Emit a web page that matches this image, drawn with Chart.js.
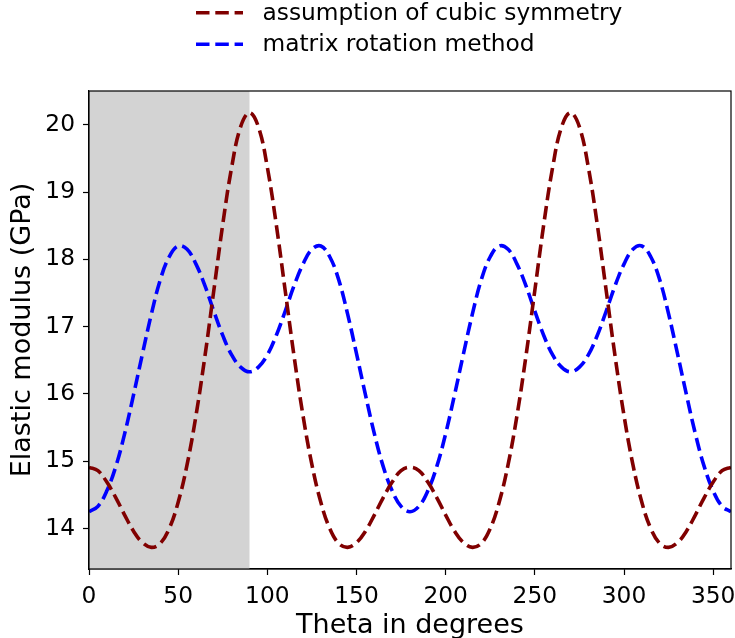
<!DOCTYPE html>
<html>
<head>
<meta charset="utf-8">
<script src="https://cdn.jsdelivr.net/npm/chart.js@4/dist/chart.umd.min.js"></script>
<style>
  html, body { margin: 0; padding: 0; background: #ffffff; }
  #wrap { width: 735px; height: 638px; position: relative; }
</style>
</head>
<body>
<div id="wrap"><canvas id="c" width="735" height="638"></canvas></div>
<script>
// ---- data ----
const thetaDeg = [0,5,10,15,20,25,30,35,40,45,50,55,60,65,70,75,80,85,90,95,100,105,110,115,120,125,130,135,140,145,150,155,160,165,170,175,180,185,190,195,200,205,210,215,220,225,230,235,240,245,250,255,260,265,270,275,280,285,290,295,300,305,310,315,320,325,330,335,340,345,350,355,360];
const cubicSymmetry = [14.91,14.86,14.69,14.46,14.20,13.96,13.79,13.72,13.78,14.00,14.39,14.95,15.68,16.56,17.54,18.52,19.37,19.97,20.18,19.97,19.37,18.52,17.54,16.56,15.68,14.95,14.39,14.00,13.78,13.72,13.79,13.96,14.20,14.46,14.69,14.86,14.91,
  14.86,14.69,14.46,14.20,13.96,13.79,13.72,13.78,14.00,14.39,14.95,15.68,16.56,17.54,18.52,19.37,19.97,20.18,19.97,19.37,18.52,17.54,16.56,15.68,14.95,14.39,14.00,13.78,13.72,13.79,13.96,14.20,14.46,14.69,14.86,14.91];
const matrixRotation = [14.25,14.33,14.56,14.92,15.41,15.99,16.60,17.19,17.70,18.04,18.20,18.15,17.93,17.61,17.23,16.87,16.58,16.40,16.33,16.40,16.58,16.87,17.23,17.61,17.93,18.15,18.20,18.04,17.70,17.19,16.60,15.99,15.41,14.92,14.56,14.33,14.25,
  14.33,14.56,14.92,15.41,15.99,16.60,17.19,17.70,18.04,18.20,18.15,17.93,17.61,17.23,16.87,16.58,16.40,16.33,16.40,16.58,16.87,17.23,17.61,17.93,18.15,18.20,18.04,17.70,17.19,16.60,15.99,15.41,14.92,14.56,14.33,14.25];
const seriesLabels = ['assumption of cubic symmetry', 'matrix rotation method'];
const xTickValues = [0,50,100,150,200,250,300,350];
const yTickValues = [14,15,16,17,18,19,20];
const shadedRange = [0, 90];
const xLimits = [0, 360];
const yLimits = [13.3985, 20.5035];

// ---- styling ----
const FONT = 'DejaVu Sans';
const colors = ['#800000', '#0000ff'];
const dash = [13.5, 5.8];
const lw = 3.6;
const tickFont = 23.3;
const titleFont = 27;

function toPoints(xs, ys) { return xs.map((x, i) => ({ x: x, y: ys[i] })); }

const shadePlugin = {
  id: 'shade',
  beforeDatasetsDraw(chart) {
    const { ctx, chartArea, scales } = chart;
    const x0 = scales.x.getPixelForValue(shadedRange[0]);
    const x1 = scales.x.getPixelForValue(shadedRange[1]);
    ctx.save();
    ctx.fillStyle = '#d3d3d3';
    ctx.fillRect(x0, chartArea.top, x1 - x0, chartArea.bottom - chartArea.top);
    ctx.restore();
  }
};

const framePlugin = {
  id: 'frame',
  afterDatasetsDraw(chart) {
    const { ctx, chartArea } = chart;
    ctx.save();
    ctx.strokeStyle = '#000';
    ctx.lineWidth = 1.2;
    ctx.strokeRect(chartArea.left, chartArea.top, chartArea.right - chartArea.left, chartArea.bottom - chartArea.top);
    ctx.restore();
  }
};

const legendPlugin = {
  id: 'customLegend',
  afterDraw(chart) {
    const ctx = chart.ctx;
    ctx.save();
    const rowsY = [12.7, 44.3];
    for (let i = 0; i < seriesLabels.length; i++) {
      const y = rowsY[i];
      ctx.strokeStyle = colors[i];
      ctx.lineWidth = lw;
      ctx.setLineDash(dash);
      ctx.beginPath();
      ctx.moveTo(196, y);
      ctx.lineTo(243, y);
      ctx.stroke();
      ctx.setLineDash([]);
      ctx.fillStyle = '#000';
      ctx.font = tickFont + 'px "' + FONT + '"';
      ctx.textBaseline = 'alphabetic';
      ctx.textAlign = 'left';
      ctx.fillText(seriesLabels[i], 262.5, y + 6.8);
    }
    ctx.restore();
  }
};

new Chart(document.getElementById('c'), {
  type: 'line',
  data: {
    datasets: [
      { label: seriesLabels[0], data: toPoints(thetaDeg, cubicSymmetry), borderColor: colors[0], borderWidth: lw, borderDash: dash, pointRadius: 0, tension: 0.4, fill: false },
      { label: seriesLabels[1], data: toPoints(thetaDeg, matrixRotation), borderColor: colors[1], borderWidth: lw, borderDash: dash, pointRadius: 0, tension: 0.4, fill: false }
    ]
  },
  options: {
    responsive: false,
    animation: false,
    layout: { padding: { top: 91, right: 4, left: 0, bottom: 0 } },
    plugins: { legend: { display: false }, tooltip: { enabled: false } },
    scales: {
      x: {
        type: 'linear', min: xLimits[0], max: xLimits[1],
        afterBuildTicks: s => { s.ticks = xTickValues.map(v => ({ value: v })); },
        afterFit: s => { s.height = 69; s.paddingLeft = 0; s.paddingRight = 0; },
        ticks: { color: '#000', font: { family: FONT, size: tickFont }, padding: 8, maxRotation: 0, autoSkip: false },
        grid: { drawOnChartArea: false, drawTicks: true, tickLength: 6, color: '#000', tickWidth: 1.2 },
        border: { color: '#000', width: 1.2 },
        title: { display: true, text: 'Theta in degrees', color: '#000', font: { family: FONT, size: titleFont }, padding: { top: 0, bottom: -4 } }
      },
      y: {
        type: 'linear', min: yLimits[0], max: yLimits[1],
        afterBuildTicks: s => { s.ticks = yTickValues.map(v => ({ value: v })); },
        afterFit: s => { s.width = 89; s.paddingTop = 0; s.paddingBottom = 0; },
        ticks: { color: '#000', font: { family: FONT, size: tickFont }, padding: 8, autoSkip: false },
        grid: { drawOnChartArea: false, drawTicks: true, tickLength: 6, color: '#000', tickWidth: 1.2 },
        border: { color: '#000', width: 1.2 },
        title: { display: true, text: 'Elastic modulus (GPa)', color: '#000', font: { family: FONT, size: titleFont }, padding: { top: 7, bottom: 0 } }
      }
    }
  },
  plugins: [shadePlugin, framePlugin, legendPlugin]
});
</script>
</body>
</html>
